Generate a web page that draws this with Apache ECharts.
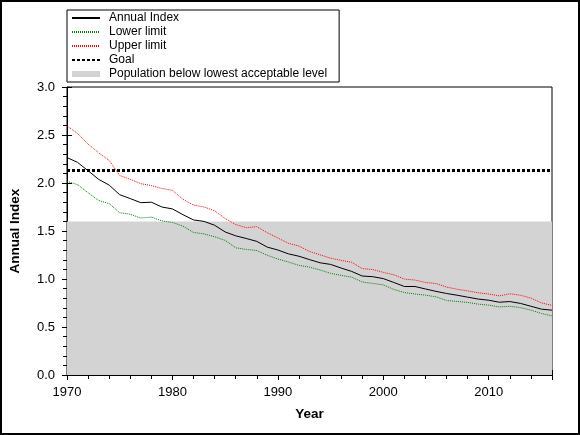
<!DOCTYPE html>
<html>
<head>
<meta charset="utf-8">
<script src="https://cdn.jsdelivr.net/npm/echarts@6/dist/echarts.min.js"></script>
<style>
html,body{margin:0;padding:0;background:#fff;}
#chart{width:580px;height:435px;}
</style>
</head>
<body>
<div id="chart"></div>
<script>
var years = [1970,1971,1972,1973,1974,1975,1976,1977,1978,1979,
             1980,1981,1982,1983,1984,1985,1986,1987,1988,1989,
             1990,1991,1992,1993,1994,1995,1996,1997,1998,1999,
             2000,2001,2002,2003,2004,2005,2006,2007,2008,2009,
             2010,2011,2012,2013,2014,2015,2016];
var annualIndex = [2.265,2.215,2.128,2.038,1.978,1.878,1.838,1.795,1.800,1.750,
                   1.730,1.670,1.615,1.600,1.560,1.490,1.450,1.422,1.392,1.332,
                   1.302,1.262,1.237,1.202,1.169,1.152,1.114,1.079,1.031,1.024,
                   1.004,0.964,0.922,0.922,0.896,0.871,0.849,0.831,0.811,0.791,
                   0.779,0.758,0.765,0.746,0.716,0.686,0.675];
var lowerLimit = [2.018,1.983,1.898,1.818,1.785,1.690,1.675,1.635,1.645,1.605,
                  1.590,1.550,1.485,1.470,1.440,1.402,1.325,1.308,1.297,1.247,
                  1.208,1.177,1.142,1.124,1.094,1.059,1.038,1.019,0.969,0.954,
                  0.939,0.891,0.859,0.844,0.832,0.814,0.776,0.766,0.756,0.738,
                  0.728,0.709,0.716,0.702,0.676,0.641,0.616];
var upperLimit = [2.595,2.515,2.405,2.315,2.235,2.078,2.038,1.993,1.973,1.943,
                  1.924,1.830,1.770,1.750,1.710,1.630,1.567,1.535,1.545,1.482,
                  1.427,1.372,1.343,1.287,1.252,1.217,1.194,1.174,1.108,1.099,
                  1.069,1.044,0.999,0.989,0.964,0.953,0.916,0.893,0.876,0.856,
                  0.844,0.824,0.846,0.831,0.801,0.751,0.725];
var goalValue = 2.13;
var lowestAcceptable = 1.6;
var xTicks = [1970,1980,1990,2000,2010];
var yTicks = [0.0,0.5,1.0,1.5,2.0,2.5,3.0];
var names = ['Annual Index','Lower limit','Upper limit','Goal','Population below lowest acceptable level'];

function pairs(vals){ return years.map(function(y,i){ return [y, vals[i]]; }); }
var xMin = years[0], xMax = years[years.length-1];

var font = "'Liberation Sans', Arial, sans-serif";
var chart = echarts.init(document.getElementById('chart'), null, {renderer:'canvas'});
var hideSym = {opacity: 0};
var option = {
  animation: false,
  backgroundColor: '#ffffff',
  textStyle: {fontFamily: font, color: '#000'},
  grid: {left: 67, right: 28, top: 87, bottom: 60, show: true, borderColor: '#000', borderWidth: 1, backgroundColor: 'transparent'},
  legend: {
    orient: 'vertical', left: 67, top: 10,
    padding: [1, 12, 1, 4],
    borderColor: '#000', borderWidth: 1,
    itemWidth: 28, itemHeight: 6, itemGap: 0,
    textStyle: {fontFamily: font, fontSize: 12, color: '#000', lineHeight: 14, padding: [0,0,0,4]},
    data: [
      {name: names[0], itemStyle: hideSym},
      {name: names[1], itemStyle: hideSym},
      {name: names[2], itemStyle: hideSym},
      {name: names[3], itemStyle: hideSym},
      {name: names[4], icon: 'rect', itemStyle: {color: '#d3d3d3', opacity: 1}}
    ]
  },
  xAxis: [{
    type: 'value', min: xMin, max: xMax, interval: 10,
    name: 'Year', nameLocation: 'middle', nameGap: 32,
    nameTextStyle: {fontFamily: font, fontSize: 13.5, fontWeight: 'bold', color: '#000'},
    axisLine: {show: true, lineStyle: {color: '#000', width: 1}},
    axisTick: {show: true, length: 5, lineStyle: {color: '#000'}},
    minorTick: {show: true, splitNumber: 5, length: 4, lineStyle: {color: '#000'}},
    axisLabel: {fontFamily: font, fontSize: 13, color: '#000', margin: 11,
      formatter: function(v){ return xTicks.indexOf(v) >= 0 ? String(v) : ''; }},
    splitLine: {show: false}
  },{
    type: 'value', min: xMin, max: xMax, interval: 10, position: 'bottom',
    axisLine: {show: false},
    axisTick: {show: true, inside: true, length: 5, lineStyle: {color: '#000'}},
    axisLabel: {show: false}, splitLine: {show: false}
  }],
  yAxis: [{
    type: 'value', min: 0, max: 3, interval: 0.5,
    name: 'Annual Index', nameLocation: 'middle', nameGap: 45,
    nameTextStyle: {fontFamily: font, fontSize: 13.5, fontWeight: 'bold', color: '#000'},
    axisLine: {show: true, lineStyle: {color: '#000', width: 1}},
    axisTick: {show: true, length: 5, lineStyle: {color: '#000'}},
    minorTick: {show: true, splitNumber: 5, length: 4, lineStyle: {color: '#000'}},
    axisLabel: {fontFamily: font, fontSize: 13, color: '#000', margin: 12,
      formatter: function(v){ return v.toFixed(1); }},
    splitLine: {show: false}
  },{
    type: 'value', min: 0, max: 3, interval: 0.5, position: 'left',
    axisLine: {show: false},
    axisTick: {show: true, inside: true, length: 5, lineStyle: {color: '#000'}},
    axisLabel: {show: false}, splitLine: {show: false}
  }],
  series: [
    {
      name: names[4], type: 'line', symbol: 'none', silent: true, z: 1,
      data: [[xMin, lowestAcceptable],[xMax, lowestAcceptable]],
      lineStyle: {width: 0, color: '#d3d3d3'},
      itemStyle: {color: '#d3d3d3'},
      areaStyle: {color: '#d3d3d3', opacity: 1}
    },
    {
      name: names[3], type: 'line', symbol: 'none', z: 3,
      data: [[xMin, goalValue],[xMax, goalValue]],
      lineStyle: {color: '#000', width: 3, type: [3,2]},
      itemStyle: {color: '#000'}
    },
    {
      name: names[2], type: 'line', symbol: 'none', z: 4,
      data: pairs(upperLimit),
      lineStyle: {color: '#ff0000', width: 1, type: [1,1]},
      itemStyle: {color: '#ff0000'}
    },
    {
      name: names[1], type: 'line', symbol: 'none', z: 4,
      data: pairs(lowerLimit),
      lineStyle: {color: '#008000', width: 1, type: [1,1]},
      itemStyle: {color: '#008000'}
    },
    {
      name: names[0], type: 'line', symbol: 'none', z: 5,
      data: pairs(annualIndex),
      lineStyle: {color: '#000', width: 1},
      itemStyle: {color: '#000'}
    }
  ],
  graphic: [{
    type: 'rect', silent: true, z: 100,
    shape: {x: 1, y: 1, width: 578, height: 433},
    style: {fill: null, stroke: '#000', lineWidth: 2}
  }]
};
chart.setOption(option);
</script>
</body>
</html>
